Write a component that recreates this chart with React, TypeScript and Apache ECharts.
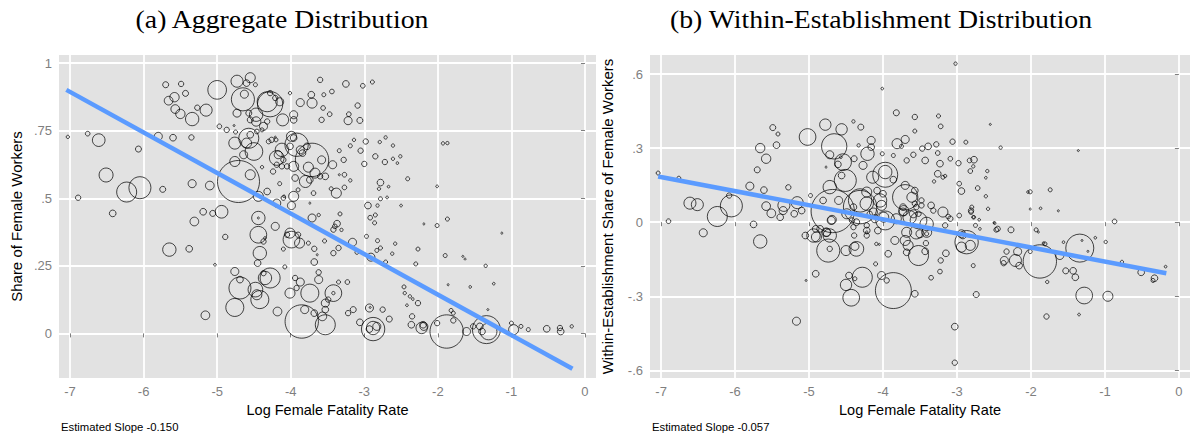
import { useEffect, useRef } from "react";
import * as echarts from "echarts";

const xTicks = [-7, -6, -5, -4, -3, -2, -1, 0];
const aYTicks = [0, 0.25, 0.5, 0.75, 1];
const bYTicks = [-0.6, -0.3, 0, 0.3, 0.6];
const titles = ["(a) Aggregate Distribution", "(b) Within-Establishment Distribution"];
const xName = "Log Female Fatality Rate";
const yNames = ["Share of Female Workers", "Within-Establishment Share of Female Workers"];
const slopeNotes = ["Estimated Slope -0.150", "Estimated Slope -0.057"];

// fitted lines (endpoints of fitted values)
const aFit = [[-7.05, 0.901], [-0.17, -0.131]];
const bFit = [[-7.04, 0.185], [-0.17, -0.207]];

// [log fatality rate, share, employment weight]
const aPoints = [
  [-7.03,0.727,0.25],[-6.76,0.739,0.49],[-6.61,0.715,3.6],[-6.07,0.682,0.81],[-6.89,0.502,0.64],
  [-6.51,0.586,4.4],[-6.23,0.523,9],[-6.05,0.539,10.9],[-6.42,0.444,1],[-5.74,0.533,0.81],
  [-5.80,0.729,1.44],[-5.60,0.724,1],[-5.35,0.725,0.64],[-5.70,0.920,0.81],[-5.49,0.923,0.64],
  [-5.43,0.888,0.81],[-5.58,0.874,1.96],[-5.66,0.861,1.69],[-5.57,0.830,1.69],[-5.50,0.812,1.96],
  [-5.34,0.793,4],[-5.27,0.835,0.64],[-5.15,0.826,3.24],[-5.00,0.901,7.84],[-5.34,0.554,1.44],
  [-5.10,0.547,1.69],[-5.31,0.414,1.69],[-5.19,0.450,1],[-5.06,0.444,0.81],[-4.94,0.450,3.6],
  [-4.71,0.562,39.7],[-4.55,0.587,2.25],[-4.97,0.766,0.49],[-4.87,0.753,0.64],[-4.73,0.933,3.24],
  [-4.55,0.946,2.25],[-4.60,0.926,1],[-4.48,0.920,0.36],[-4.63,0.885,1.44],[-4.65,0.866,12],
  [-4.32,0.857,9],[-4.28,0.848,14.4],[-4.15,0.857,1.44],[-4.73,0.815,1.44],[-4.57,0.815,0.81],
  [-4.47,0.809,4],[-4.55,0.790,0.81],[-4.47,0.784,1.96],[-4.11,0.790,3.24],[-3.96,0.809,1.44],
  [-4.57,0.722,9],[-4.60,0.704,2.25],[-4.76,0.704,3.24],[-4.50,0.673,7],[-4.64,0.661,1.44],
  [-4.76,0.636,2.25],[-4.19,0.649,4.84],[-4.12,0.679,4],[-3.99,0.729,2.25],[-3.96,0.618,2.25],
  [-4.24,0.599,0.64],[-3.96,0.507,2.25],[-4.44,0.507,2.25],[-4.32,0.525,1],[-4.19,0.482,1.44],
  [-3.99,0.473,1.44],[-4.44,0.427,4],[-4.44,0.427,0.09],[-4.21,0.396,1.44],[-4.44,0.365,6.25],
  [-4.28,0.889,0.64],[-4.21,0.871,0.64],[-4.01,0.889,0.25],[-4.32,0.784,0.64],[-3.96,0.790,1],
  [-3.87,0.854,1.44],[-3.71,0.852,2.25],[-3.72,0.883,1],[-3.60,0.938,0.64],[-3.55,0.883,0.36],
  [-3.44,0.895,0.49],[-3.25,0.923,1],[-3.02,0.916,0.49],[-2.89,0.930,0.36],[-3.56,0.834,0.49],
  [-3.47,0.811,0.49],[-3.58,0.790,0.64],[-3.09,0.843,0.64],[-3.21,0.811,0.49],[-3.22,0.787,1.44],
  [-3.06,0.788,0.81],[-4.77,0.769,0.09],[-4.75,0.745,0.36],[-4.55,0.735,1],[-4.37,0.766,1.44],
  [-4.39,0.753,0.36],[-4.46,0.747,0.49],[-4.26,0.716,0.64],[-4.30,0.710,0.49],[-4.21,0.726,0.09],
  [-4.20,0.716,0.36],[-3.96,0.723,1],[-3.92,0.698,12.25],[-4.17,0.661,1.44],[-4.10,0.642,0.64],
  [-3.87,0.679,1.44],[-3.78,0.692,1],[-3.84,0.667,1],[-3.71,0.642,25],[-3.58,0.642,1.44],
  [-3.76,0.615,2.25],[-3.67,0.593,2.25],[-3.60,0.581,0.64],[-3.53,0.581,1],[-3.43,0.624,1.44],
  [-3.74,0.568,1],[-3.80,0.562,3.24],[-3.94,0.575,1],[-4.05,0.618,0.64],[-4.12,0.618,0.64],
  [-4.19,0.624,0.64],[-4.39,0.615,0.25],[-4.15,0.554,0.36],[-4.10,0.501,0.49],[-3.90,0.531,0.36],
  [-3.69,0.519,0.49],[-3.74,0.482,0.09],[-3.38,0.519,2.25],[-3.45,0.535,0.36],[-3.34,0.676,0.36],
  [-3.28,0.642,0.64],[-3.14,0.716,0.25],[-3.19,0.694,0.36],[-3.05,0.676,0.64],[-2.98,0.710,0.64],
  [-3.00,0.627,0.64],[-2.85,0.655,0.64],[-2.79,0.708,0.25],[-2.71,0.725,0.25],[-2.61,0.695,0.25],
  [-2.72,0.634,0.64],[-2.61,0.646,0.25],[-2.55,0.630,0.16],[-2.51,0.655,0.25],[-3.27,0.587,0.49],
  [-3.34,0.587,0.09],[-3.19,0.566,0.25],[-3.27,0.540,0.49],[-2.78,0.558,1],[-2.80,0.535,0.25],
  [-2.67,0.543,0.16],[-2.78,0.498,0.36],[-2.69,0.503,0.16],[-2.95,0.473,1],[-2.82,0.473,0.25],
  [-2.50,0.473,0.16],[-2.41,0.572,0.36],[-2.92,0.428,0.49],[-2.85,0.438,0.36],[-2.86,0.409,0.36],
  [-3.33,0.442,0.36],[-3.37,0.406,1],[-3.40,0.396,0.49],[-3.31,0.383,0.25],[-3.62,0.438,0.25],
  [-3.71,0.427,1.44],[-2.19,0.405,0.09],[-2.01,0.544,0.16],[-2.01,0.399,0.36],[-1.93,0.703,0.25],
  [-1.87,0.704,0.25],[-1.87,0.423,0.36],[-4.01,0.692,1],[-4.09,0.507,0.16],[-4.01,0.371,2.25],
  [-4.89,0.357,0.64],[-4.42,0.297,4],[-4.45,0.260,1],[-4.37,0.340,0.64],[-4.35,0.353,0.16],
  [-3.99,0.347,6.25],[-3.88,0.334,2.25],[-4.05,0.365,0.64],[-3.90,0.365,0.64],[-4.10,0.312,0.36],
  [-3.76,0.334,0.36],[-3.68,0.313,0.64],[-3.64,0.291,0.09],[-3.68,0.264,1],[-3.54,0.342,0.36],
  [-3.42,0.297,0.64],[-3.35,0.316,0.64],[-3.42,0.384,0.64],[-3.16,0.337,1.44],[-3.10,0.300,0.36],
  [-2.97,0.359,0.36],[-2.82,0.343,0.36],[-2.78,0.316,0.36],[-2.83,0.307,0.36],[-2.58,0.332,0.25],
  [-2.91,0.282,1.44],[-2.71,0.264,0.36],[-2.62,0.295,0.25],[-2.27,0.312,0.36],[-2.30,0.257,0.36],
  [-1.90,0.288,0.36],[-1.66,0.285,0.09],[-1.63,0.275,0.09],[-1.35,0.250,0.25],[-1.13,0.371,0.09],
  [-5.03,0.254,0.16],[-4.08,0.246,0.36],[-4.76,0.229,1.44],[-4.69,0.199,1],[-4.69,0.168,10.9],
  [-4.48,0.162,4.84],[-4.42,0.125,7.29],[-4.76,0.096,7.29],[-4.28,0.205,9],[-4.35,0.205,4],
  [-4.37,0.223,0.64],[-4.18,0.081,1.69],[-4.01,0.149,2.25],[-3.94,0.205,0.64],[-3.87,0.190,1.44],
  [-3.92,0.168,0.64],[-3.74,0.149,7.29],[-3.62,0.226,0.64],[-3.62,0.199,1.44],[-3.42,0.149,6.25],
  [-3.42,0.149,0.25],[-3.35,0.190,0.36],[-3.23,0.190,0.49],[-3.53,0.112,1.44],[-3.49,0.125,0.64],
  [-3.53,0.088,1],[-3.57,0.063,1.69],[-3.53,0.032,9],[-3.85,0.044,25],[-3.81,0.088,1.44],
  [-3.68,0.075,1],[-5.16,0.067,1.69],[-3.22,0.075,0.64],[-3.15,0.088,0.81],[-2.93,0.094,1.44],
  [-2.92,0.096,0.09],[-2.75,0.088,0.64],[-2.66,0.053,0.81],[-3.06,0.041,1],[-2.88,0.016,12.25],
  [-2.88,0.020,4],[-2.83,0.026,1.44],[-2.93,0.016,1],[-2.46,0.172,0.36],[-2.45,0.149,0.25],
  [-2.38,0.137,0.25],[-2.34,0.127,0.16],[-2.27,0.112,0.64],[-2.42,0.104,0.16],[-2.35,0.063,0.64],
  [-2.36,0.032,1],[-2.22,0.020,2.89],[-2.19,0.026,1.44],[-2.20,0.032,1],[-2.01,0.038,0.64],
  [-1.88,0.007,25],[-1.82,0.085,0.36],[-1.79,0.075,0.36],[-1.79,0.048,0.64],[-1.86,0.180,0.09],
  [-1.56,0.172,0.16],[-1.24,0.184,0.16],[-1.32,0.088,0.09],[-1.61,0.007,1.44],[-1.52,0.026,0.64],
  [-1.43,0.026,1],[-1.34,0.014,17.64],[-1.31,0.007,6.25],[-1.40,0.007,1],[-0.97,0.014,2.25],
  [-1.00,0.038,0.36],[-0.87,0.026,0.36],[-0.77,0.014,0.36],[-0.52,0.017,1],[-0.34,0.020,0.64],
  [-0.33,0.007,1],[-0.18,0.026,0.25],[-5.65,0.310,4],[-5.38,0.313,1],[-4.46,0.143,2.25],
];

const bPoints = [
  [-7.04,0.199,0.36],[-6.76,0.178,0.36],[-6.90,0.004,0.49],[-6.61,0.077,3.24],[-6.51,0.071,3.24],
  [-6.24,0.023,9],[-6.05,0.066,10.9],[-6.08,0.108,0.64],[-6.43,-0.043,1.44],[-5.75,-0.009,1],
  [-5.66,-0.078,4],[-5.80,0.146,1.44],[-5.61,0.130,1],[-5.70,0.212,0.81],[-5.58,0.257,1.96],
  [-5.66,0.300,1.96],[-5.44,0.312,1],[-5.49,0.383,0.81],[-5.42,0.357,0.36],[-5.28,0.141,0.64],
  [-5.58,0.065,1.69],[-5.51,0.036,1.69],[-5.39,0.020,1],[-5.35,0.047,1.44],[-5.34,0.068,3.24],
  [-5.20,0.034,1],[-5.16,0.079,3.24],[-5.10,0.047,1],[-5.02,0.345,6.25],[-4.98,0.108,0.36],
  [-4.78,0.395,2.89],[-4.56,0.376,2.89],[-4.40,0.408,0.25],[-4.30,0.385,0.81],[-4.66,0.307,14.44],
  [-4.72,0.273,1.44],[-4.61,0.234,1],[-4.54,0.243,6.25],[-4.57,0.263,0.16],[-4.77,0.223,0.09],
  [-4.33,0.311,0.25],[-4.21,0.277,4],[-4.16,0.331,1.44],[-4.16,0.304,1],[-4.27,0.230,1.44],
  [-4.39,0.257,0.81],[-4.01,0.277,0.36],[-4.01,0.541,0.16],[-4.51,0.169,10.9],[-4.56,0.189,1],
  [-4.14,0.182,3.24],[-3.97,0.192,14],[-4.72,0.142,4],[-4.68,0.045,42],[-4.31,0.088,12.25],
  [-4.00,0.115,1],[-4.22,0.122,2.25],[-4.31,0.061,25],[-4.13,0.041,1.44],[-3.97,0.007,8],
  [-4.70,0.007,1.44],[-4.81,0.088,1],[-4.85,-0.027,1],[-4.76,-0.041,1.44],[-5.05,-0.054,1],
  [-4.36,0.000,1],[-4.40,-0.020,0.64],[-4.22,-0.034,1],[-4.07,-0.034,1],[-4.90,-0.060,2.25],
  [-4.74,-0.115,12],[-4.72,-0.054,4],[-4.72,-0.108,0.64],[-4.50,-0.115,2.25],[-4.36,-0.108,4.84],
  [-4.38,-0.098,1.44],[-4.39,-0.054,0.64],[-4.22,-0.054,0.64],[-4.22,-0.041,0.16],[-4.09,-0.088,0.25],
  [-4.05,-0.090,0.09],[-4.10,-0.169,0.36],[-4.91,-0.209,1],[-5.04,-0.236,0.09],[-4.46,-0.216,1],
  [-4.38,-0.229,0.36],[-4.50,-0.254,2.89],[-4.28,-0.223,9],[-4.43,-0.306,6.25],[-4.02,-0.216,1.44],
  [-3.95,-0.236,0.64],[-3.86,-0.277,29],[-5.17,-0.401,1.44],[-3.03,-0.423,1],[-3.03,-0.569,0.64],
  [-3.02,0.642,0.25],[-3.82,0.443,0.81],[-3.57,0.426,0.64],[-3.25,0.430,0.36],[-3.22,0.388,0.49],
  [-3.57,0.369,0.36],[-2.55,0.396,0.09],[-2.41,0.302,0.25],[-3.81,0.318,2.25],[-3.70,0.335,1.44],
  [-3.75,0.307,0.36],[-3.86,0.270,0.36],[-3.68,0.250,0.64],[-3.59,0.273,0.64],[-3.47,0.298,0.64],
  [-3.39,0.307,1],[-3.28,0.315,0.64],[-3.43,0.250,1],[-3.26,0.280,0.49],[-3.23,0.237,1],
  [-3.26,0.196,1],[-3.19,0.182,0.36],[-3.16,0.187,0.25],[-3.31,0.165,0.25],[-3.06,0.326,0.64],
  [-2.88,0.324,0.36],[-3.09,0.257,0.49],[-2.98,0.239,0.64],[-2.83,0.250,0.49],[-2.77,0.253,1],
  [-2.78,0.226,0.25],[-2.82,0.207,0.49],[-2.59,0.207,0.25],[-2.61,0.180,0.16],[-2.97,0.156,0.49],
  [-2.94,0.126,1],[-2.72,0.138,0.49],[-2.61,0.105,0.25],[-2.80,0.061,0.36],[-2.81,0.041,0.49],
  [-2.58,0.054,0.25],[-2.77,0.020,0.25],[-2.70,0.010,0.16],[-2.97,0.027,0.49],[-3.12,0.023,0.49],
  [-3.16,-0.013,0.64],[-2.75,-0.013,0.36],[-2.49,-0.004,0.16],[-2.45,-0.027,0.64],[-2.27,-0.031,0.81],
  [-2.04,0.122,0.16],[-2.87,-0.081,12.25],[-2.92,-0.054,1],[-2.82,-0.094,2.25],[-2.94,-0.101,2.25],
  [-3.50,-0.047,1.44],[-3.42,-0.085,0.64],[-3.41,-0.047,0.36],[-3.59,0.034,1.44],[-3.55,0.061,0.64],
  [-3.72,0.047,2.25],[-3.70,0.101,14.44],[-3.97,0.203,4],[-3.86,0.172,1],[-4.02,0.068,2.25],
  [-3.99,0.020,2.25],[-3.82,0.014,2.25],[-3.84,-0.074,1.44],[-3.93,-0.128,1],[-3.68,-0.122,1],
  [-3.52,-0.135,9],[-3.15,-0.126,1],[-4.94,-0.054,4],[-4.91,-0.027,1],[-4.77,-0.041,1.69],
  [-4.69,0.010,1.69],[-4.22,0.075,4],[-4.49,0.034,2.25],[-4.40,0.061,1],[-4.60,0.088,1.44],
  [-4.42,0.007,0.64],[-4.18,0.034,0.64],[-4.22,-0.013,0.64],[-4.11,0.014,1.44],[-4.08,0.128,1],
  [-4.04,0.088,4],[-0.87,0.003,0.49],[-0.99,-0.080,0.25],[-0.77,-0.161,0.25],[-0.51,-0.203,1],
  [-0.33,-0.227,1],[-0.35,-0.236,0.36],[-0.18,-0.180,0.16],[-1.34,-0.105,17.64],[-1.31,-0.074,0.09],
  [-1.23,-0.118,0.09],[-1.13,-0.063,0.16],[-1.28,-0.297,6.25],[-0.96,-0.300,2.25],[-1.35,-0.374,0.16],
  [-1.53,-0.197,0.81],[-1.43,-0.197,1],[-1.40,-0.223,1],[-1.88,-0.159,25],[-1.81,-0.088,0.36],
  [-1.83,-0.085,0.16],[-1.61,-0.135,1.44],[-1.56,-0.081,0.16],[-1.78,-0.242,0.25],[-1.79,-0.382,0.64],
  [-1.74,0.131,0.36],[-1.63,0.046,0.09],[-2.01,0.123,0.36],[-2.01,0.053,0.09],[-1.87,0.056,0.16],
  [-1.93,-0.031,0.36],[-1.90,-0.040,0.09],[-2.01,-0.119,0.36],[-2.18,-0.119,1.44],[-2.21,-0.155,3.24],
  [-2.16,-0.176,1],[-2.33,-0.119,0.64],[-2.36,-0.155,1.44],[-2.37,-0.166,0.64],[-2.47,-0.031,0.49],
  [-2.50,-0.002,0.09],[-2.74,-0.293,0.81],[-2.78,-0.176,0.36],[-2.94,-0.047,1.44],[-3.23,-0.200,0.49],
  [-3.22,-0.155,0.64],[-3.35,-0.225,0.49],[-2.81,0.047,0.64],[-2.78,0.020,0.25],[-2.69,-0.027,0.16],
  [-3.43,-0.118,1],[-3.57,-0.290,1],[-3.66,-0.094,2.25],[-3.70,-0.074,2.25],[-3.68,-0.041,2.25],
  [-3.55,-0.041,4],[-3.41,-0.041,2.25],[-3.41,-0.007,4],[-3.52,0.007,6.25],[-3.64,0.020,4],
  [-3.73,0.041,1.44],[-3.73,0.061,1],[-3.52,0.034,0.64],[-3.48,0.068,0.64],[-3.57,0.075,0.64],
  [-3.61,0.101,2.25],[-3.70,0.149,1.44],[-3.57,0.128,1],[-3.48,0.088,0.64],[-3.35,0.068,1],
  [-3.32,0.047,0.64],[-3.19,0.041,2.25],[-3.09,0.014,0.64],[-1.36,0.290,0.09],
];

const SANS = '"Liberation Sans", Arial, sans-serif';
const SERIF = '"Liberation Serif", "DejaVu Serif", serif';
const GREY = "#7f7f7f";

const fmtTick = (v: number) => {
  if (v === 0) return "0";
  if (Number.isInteger(v)) return String(v);
  return String(v).replace("0.", ".");
};

const sizeOf = (v: number[]) => Math.sqrt(v[2]) * 6.67;

function makeX(gridIndex: number) {
  return {
    type: "value",
    gridIndex,
    min: -7.15,
    max: 0.15,
    name: xName,
    nameLocation: "middle",
    nameGap: 22,
    nameTextStyle: { color: "#000", fontSize: 14.5, fontFamily: SANS },
    axisLine: { show: false },
    axisTick: { show: true, length: 4, customValues: xTicks, lineStyle: { color: GREY, width: 1 } },
    axisLabel: { customValues: xTicks, color: GREY, fontSize: 13, fontFamily: SANS, margin: 7, formatter: fmtTick },
    splitLine: { show: true, lineStyle: { color: "#ffffff", width: 1.8 } },
  };
}

function makeY(gridIndex: number, min: number, max: number, ticks: number[], name: string) {
  return {
    type: "value",
    gridIndex,
    min,
    max,
    name,
    nameLocation: "middle",
    nameGap: 35,
    nameTextStyle: { color: "#000", fontSize: 15, fontFamily: SANS },
    axisLine: { show: false },
    axisTick: { show: true, length: 4, customValues: ticks, lineStyle: { color: GREY, width: 1 } },
    axisLabel: { customValues: ticks, color: GREY, fontSize: 13, fontFamily: SANS, margin: 7, formatter: fmtTick },
    splitLine: { show: true, lineStyle: { color: "#ffffff", width: 1.8 } },
  };
}

function scatter(idx: number, data: number[][]) {
  return {
    type: "scatter",
    xAxisIndex: idx,
    yAxisIndex: idx,
    data,
    symbol: "circle",
    symbolSize: sizeOf,
    silent: true,
    z: 2,
    itemStyle: { color: "rgba(0,0,0,0)", borderColor: "#000", borderWidth: 0.9 },
  };
}

function fitLine(idx: number, data: number[][]) {
  return {
    type: "line",
    xAxisIndex: idx,
    yAxisIndex: idx,
    data,
    showSymbol: false,
    silent: true,
    z: 3,
    lineStyle: { color: "#5b9bff", width: 4.5 },
  };
}

export default function App() {
  const ref = useRef<HTMLDivElement>(null);
  useEffect(() => {
    if (!ref.current) return;
    const chart = echarts.init(ref.current, undefined, { renderer: "svg" });
    chart.setOption({
      animation: false,
      backgroundColor: "#ffffff",
      grid: [
        { left: 59, top: 55, width: 537, height: 323, show: true, backgroundColor: "#e2e2e2", borderWidth: 0 },
        { left: 650, top: 55, width: 540, height: 323, show: true, backgroundColor: "#e2e2e2", borderWidth: 0 },
      ],
      xAxis: [makeX(0), makeX(1)],
      yAxis: [
        makeY(0, -0.165, 1.03, aYTicks, yNames[0]),
        makeY(1, -0.631, 0.677, bYTicks, yNames[1]),
      ],
      series: [scatter(0, aPoints), fitLine(0, aFit), scatter(1, bPoints), fitLine(1, bFit)],
      graphic: [
        { type: "text", x: 282, y: 19, scaleX: 1.11, style: { text: titles[0], align: "center", verticalAlign: "middle", fontSize: 25, fontFamily: SERIF, fill: "#000" } },
        { type: "text", x: 881, y: 19, scaleX: 1.11, style: { text: titles[1], align: "center", verticalAlign: "middle", fontSize: 25, fontFamily: SERIF, fill: "#000" } },
        { type: "text", x: 61, y: 427, style: { text: slopeNotes[0], align: "left", verticalAlign: "middle", fontSize: 11.3, fontFamily: SANS, fill: "#000" } },
        { type: "text", x: 652, y: 427, style: { text: slopeNotes[1], align: "left", verticalAlign: "middle", fontSize: 11.3, fontFamily: SANS, fill: "#000" } },
      ],
    });
    return () => chart.dispose();
  }, []);
  return <div ref={ref} style={{ position: "fixed", left: 0, top: 0, width: 1190, height: 438 }} />;
}
